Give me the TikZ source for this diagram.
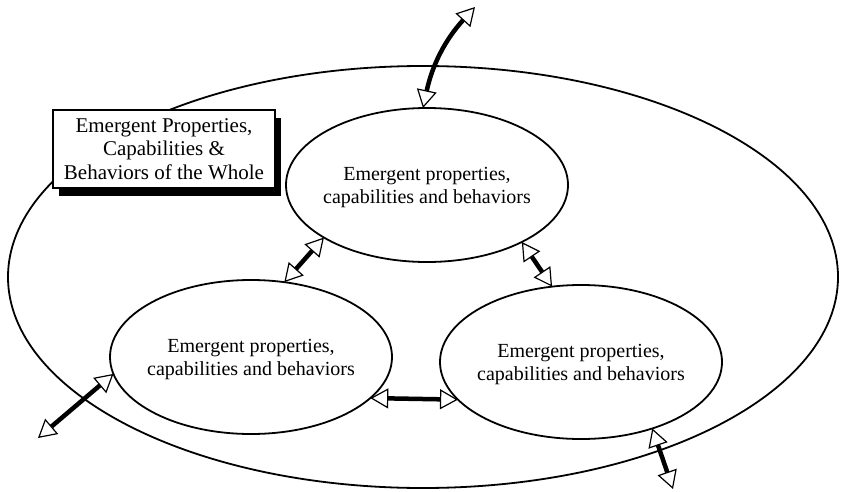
\documentclass[tikz,border=0pt]{standalone}
\usepackage{fontspec}
\setmainfont{Liberation Serif}
\usetikzlibrary{arrows.meta,shapes.geometric,shadows}

\begin{document}
\begin{tikzpicture}[x=1pt,y=1pt,
  whole/.style={draw, ellipse, line width=1.8pt, minimum width=830pt,
    minimum height=422pt, inner sep=0pt, outer sep=0pt},
  part/.style={draw, ellipse, line width=1.8pt, minimum width=282pt,
    minimum height=154pt, inner sep=0pt, outer sep=0pt},
  parttext/.style={align=center, font=\fontsize{20}{23}\selectfont, inner sep=0pt},
  caption/.style={draw, line width=1.3pt, fill=white, minimum width=222pt,
    minimum height=78pt, inner sep=0pt, align=center,
    font=\fontsize{21}{23.5}\selectfont,
    general shadow={fill=black, shadow xshift=6pt, shadow yshift=-8pt}},
  opentri/.tip={Triangle[length=18pt, width=20pt, line width=1.2pt, fill=white]},
  link/.style={line width=4.5pt, opentri-opentri},
]
\useasboundingbox (0,0) rectangle (842,491);

% the whole system
\node[whole] (W) at (423,214) {};
\node[caption] (cap) at (164,342)
  {Emergent Properties,\\Capabilities \&\\Behaviors of the Whole};

% the three parts
\node[part] (T) at (427,306) {};
\node[part] (L) at (251,134) {};
\node[part] (R) at (581,129) {};
\node[parttext] (Ttext) at ([yshift=-3pt]T.center)
  {Emergent properties,\\capabilities and behaviors};
\node[parttext] (Ltext) at ([yshift=-3pt]L.center)
  {Emergent properties,\\capabilities and behaviors};
\node[parttext] (Rtext) at ([yshift=-3pt]R.center)
  {Emergent properties,\\capabilities and behaviors};

% free ends of the exchanges with the environment
\coordinate (outN) at (475,484);
\coordinate (outSW) at (38,53);
\coordinate (outSE) at (673,2);

% interactions
\draw[link] (T.93) to[bend left=15] (outN);
\draw[link] (T.207) -- (L.66);
\draw[link] (T.329) -- (R.111);
\draw[link] (L.341) -- (R.197);
\draw[link] (L.187) -- (outSW);
\draw[link] (R.317) -- (outSE);
\end{tikzpicture}
\end{document}
